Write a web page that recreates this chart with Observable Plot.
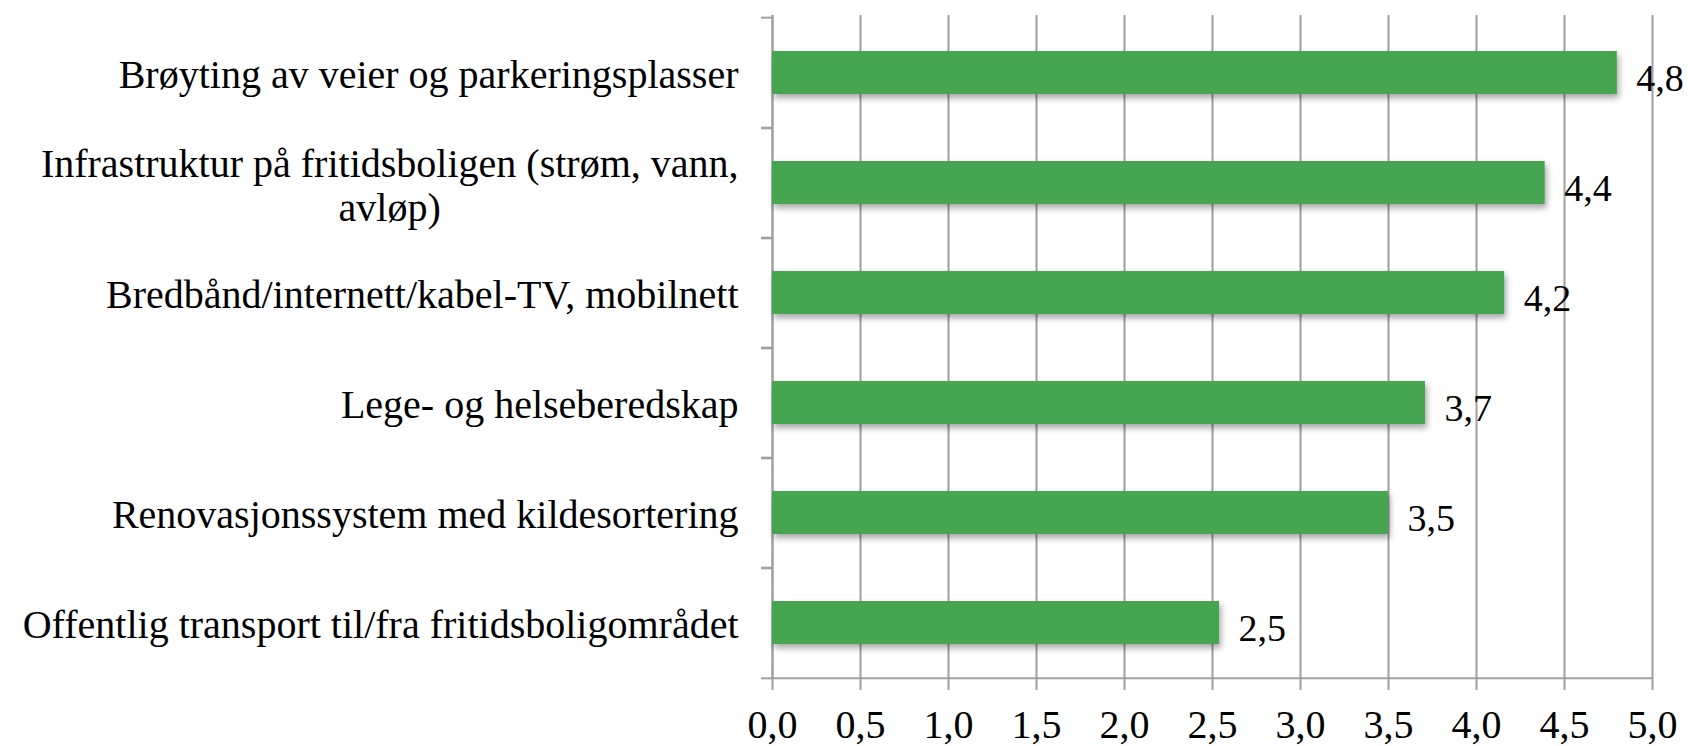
<!DOCTYPE html>
<html>
<head>
<meta charset="utf-8">
<script src="https://cdn.jsdelivr.net/npm/d3@7"></script>
<script src="https://cdn.jsdelivr.net/npm/@observablehq/plot@0.6"></script>
<style>
  html, body { margin: 0; padding: 0; background: #fff; }
  #chart { width: 1688px; height: 746px; }
</style>
</head>
<body>
<div id="chart"></div>
<script>
const categories = [
  "Brøyting av veier og parkeringsplasser",
  "Infrastruktur på fritidsboligen (strøm, vann,\navløp)",
  "Bredbånd/internett/kabel-TV, mobilnett",
  "Lege- og helseberedskap",
  "Renovasjonssystem med kildesortering",
  "Offentlig transport til/fra fritidsboligområdet"
];
const values = [4.80, 4.39, 4.16, 3.71, 3.50, 2.54];
const xTicks = [0, 0.5, 1, 1.5, 2, 2.5, 3, 3.5, 4, 4.5, 5];

const data = categories.map((c, i) => ({category: c, value: values[i]}));
const fmt = v => d3.format(".1f")(v).replace(".", ",");

const W = 1688, H = 746;
const mL = 772, mR = 36, mT = 15, mB = 67;
const step = (H - mT - mB) / categories.length;
const FONT = "Liberation Serif";
const GRID = "#a0a0a0";

const single = data.filter(d => !d.category.includes("\n"));
const wrapped = data.filter(d => d.category.includes("\n"));
const ctx = document.createElement("canvas").getContext("2d");
ctx.font = `40px "${FONT}"`;
const lineW = s => ctx.measureText(s.split("\n")[0]).width;

const chart = Plot.plot({
  width: W,
  height: H,
  marginLeft: mL,
  marginRight: mR,
  marginTop: mT,
  marginBottom: mB,
  style: {fontFamily: FONT, fontSize: "40px", color: "#000", background: "#fff"},
  x: {domain: [0, 5], label: null},
  y: {domain: categories, paddingInner: 0.61, paddingOuter: 0.305, align: 0.5, label: null},
  marks: [
    Plot.gridX({ticks: xTicks, stroke: GRID, strokeOpacity: 1, strokeWidth: 2}),
    Plot.gridY({ticks: [categories[categories.length - 1]], dy: step / 2, stroke: GRID, strokeOpacity: 1, strokeWidth: 2}),
    Plot.ruleX([0], {stroke: GRID, strokeWidth: 2}),
    Plot.axisY({tickSize: 11, tickFormat: () => "", label: null, dy: -step / 2, stroke: GRID, strokeWidth: 2}),
    Plot.axisY({tickSize: 11, tickFormat: () => "", label: null, dy: step / 2, stroke: GRID, strokeWidth: 2}),
    Plot.axisX({anchor: "bottom", ticks: xTicks, tickFormat: fmt, tickSize: 11, tickPadding: 19, label: null,
                stroke: GRID, strokeWidth: 2, fill: "#000", fontSize: 40}),
    Plot.barX(data, {x: "value", y: "category", fill: "#46a550"}),
    Plot.text(data, {x: "value", y: "category", text: d => fmt(d.value), textAnchor: "start",
                     dx: 19, dy: 6, fontSize: 38, fill: "#000"}),
    Plot.text(single, {y: "category", text: "category", frameAnchor: "left", textAnchor: "end",
                       dx: -34, dy: 2, fontSize: 40, fill: "#000"}),
    Plot.text(wrapped, {y: "category", text: "category", frameAnchor: "left", textAnchor: "middle",
                        dx: -(34 + lineW(wrapped[0].category) / 2), dy: 2, fontSize: 40, lineHeight: 1.1, fill: "#000"})
  ]
});

const bars = chart.querySelector('g[aria-label="bar"]');
if (bars) bars.style.filter = "drop-shadow(2px 4px 3px rgba(0,0,0,0.35))";
document.getElementById("chart").appendChild(chart);
</script>
</body>
</html>
